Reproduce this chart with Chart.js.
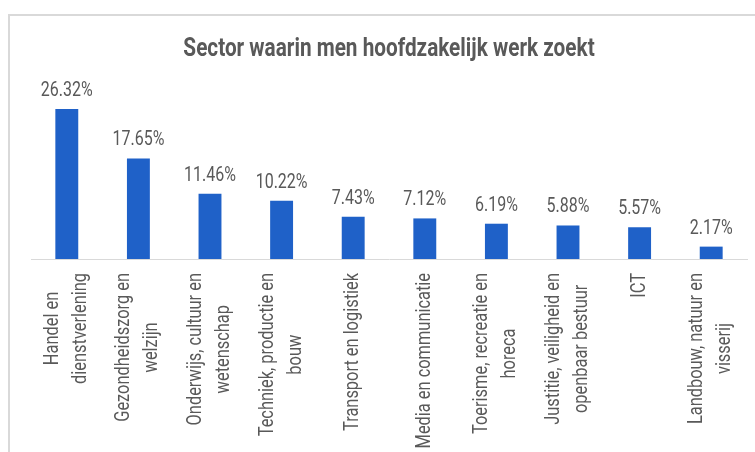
<!DOCTYPE html>
<html>
<head>
<meta charset="utf-8">
<script src="https://cdn.jsdelivr.net/npm/chart.js@4.4.1/dist/chart.umd.min.js"></script>
<style>
  html, body { margin: 0; padding: 0; background: #fff; overflow: hidden; }
  #wrap { position: relative; width: 755px; height: 452px; overflow: hidden; }
  #frame { position: absolute; left: 8px; top: 14px; width: 900px; height: 600px;
           border-left: 2px solid #d9d9d9; border-top: 2px solid #d9d9d9; }
  canvas { position: absolute; left: 0; top: 0; }
</style>
</head>
<body>
<div id="wrap">
  <div id="frame"></div>
  <canvas id="sectorChart" width="755" height="452"></canvas>
</div>
<script>
// Data
const sectors = [
  ['Handel en', 'dienstverlening'],
  ['Gezondheidszorg en', 'welzijn'],
  ['Onderwijs, cultuur en', 'wetenschap'],
  ['Techniek, productie en', 'bouw'],
  ['Transport en logistiek'],
  ['Media en communicatie'],
  ['Toerisme, recreatie en', 'horeca'],
  ['Justitie, veiligheid en', 'openbaar bestuur'],
  ['ICT'],
  ['Landbouw, natuur en', 'visserij']
];
const shares = [26.32, 17.65, 11.46, 10.22, 7.43, 7.12, 6.19, 5.88, 5.57, 2.17];
const yMax = 30;
const chartTitle = 'Sector waarin men hoofdzakelijk werk zoekt';

// the original uses a condensed face; Roboto squeezed sideways stands in for it
const FONT = 'Roboto, "DejaVu Sans", sans-serif';
const TEXT = '#595959';

function squeezedText(ctx, text, x, y, sx) {
  ctx.save();
  ctx.translate(x, y);
  ctx.scale(sx, 1);
  ctx.fillText(text, 0, 0);
  ctx.restore();
}

// title drawn by hand so it can be condensed
const squeezedTitle = {
  id: 'squeezedTitle',
  afterDraw(chart) {
    const ctx = chart.ctx;
    const area = chart.chartArea;
    ctx.save();
    ctx.font = 'bold 25px ' + FONT;
    ctx.fillStyle = TEXT;
    ctx.textAlign = 'center';
    ctx.textBaseline = 'alphabetic';
    squeezedText(ctx, chartTitle, (area.left + area.right) / 2, 56, 0.83);
    ctx.restore();
  }
};

// value labels above the bars
const barLabels = {
  id: 'barLabels',
  afterDatasetsDraw(chart) {
    const ctx = chart.ctx;
    const meta = chart.getDatasetMeta(0);
    ctx.save();
    ctx.font = '20px ' + FONT;
    ctx.fillStyle = TEXT;
    ctx.textAlign = 'center';
    ctx.textBaseline = 'alphabetic';
    meta.data.forEach((bar, i) => {
      squeezedText(ctx, shares[i].toFixed(2) + '%', bar.x, bar.y - 13, 0.8);
    });
    ctx.restore();
  }
};

// rotated category labels, lines centred on each other
const catLabels = {
  id: 'catLabels',
  afterDraw(chart) {
    const ctx = chart.ctx;
    const xs = chart.scales.x;
    const top = chart.chartArea.bottom + 14;
    const lh = 28;
    const sx = 0.82;
    ctx.save();
    ctx.font = '20px ' + FONT;
    ctx.fillStyle = TEXT;
    ctx.textAlign = 'center';
    ctx.textBaseline = 'middle';
    sectors.forEach((lines, i) => {
      const x = xs.getPixelForTick(i);
      const w = Math.max(...lines.map(l => ctx.measureText(l).width)) * sx;
      ctx.save();
      ctx.translate(x, top);
      ctx.rotate(-Math.PI / 2);
      lines.forEach((l, j) => {
        squeezedText(ctx, l, -w / 2, (j - (lines.length - 1) / 2) * lh, sx);
      });
      ctx.restore();
    });
    ctx.restore();
  }
};

new Chart(document.getElementById('sectorChart'), {
  type: 'bar',
  data: {
    labels: sectors,
    datasets: [{
      data: shares,
      backgroundColor: '#1f61c8',
      borderWidth: 0,
      categoryPercentage: 1,
      barPercentage: 0.32
    }]
  },
  options: {
    responsive: false,
    animation: false,
    layout: { padding: { left: 31, right: 8, top: 88, bottom: 185 } },
    scales: {
      x: {
        grid: { display: false },
        border: { display: true, color: '#d9d9d9', width: 1 },
        ticks: { display: false }
      },
      y: {
        display: false,
        min: 0,
        max: yMax
      }
    },
    plugins: {
      legend: { display: false },
      tooltip: { enabled: false },
      title: { display: false }
    }
  },
  plugins: [barLabels, catLabels, squeezedTitle]
});
</script>
</body>
</html>
